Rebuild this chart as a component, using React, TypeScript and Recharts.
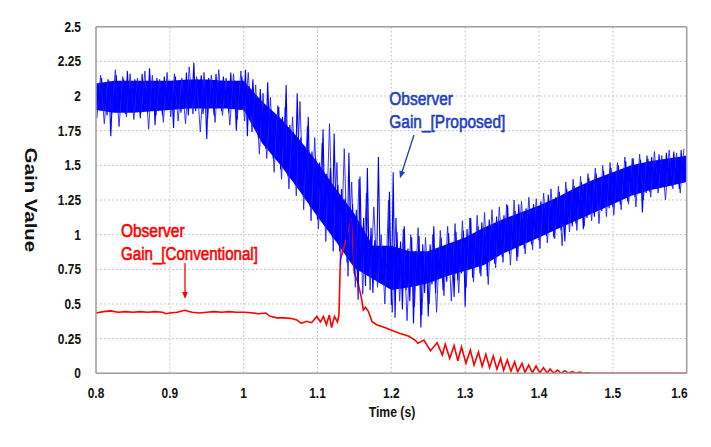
import React from "react"
import { ComposedChart, Line, Area, XAxis, YAxis, CartesianGrid, ReferenceLine } from "recharts"

// x axis and y axis ticks
const timeTicks = [0.8, 0.9, 1.0, 1.1, 1.2, 1.3, 1.4, 1.5, 1.6]
const gainTicks = [0, 0.25, 0.5, 0.75, 1, 1.25, 1.5, 1.75, 2, 2.25, 2.5]

const blueStart = 0.8
const blueStep = 0.0025
const proposedGain = [
  1.95, 2.08, 1.90, 2.13, 1.97, 2.05, 1.86, 2.11, 1.71, 2.03, 1.93, 2.15, 1.88, 2.07, 1.96, 2.12, 1.87, 2.18, 1.94, 2.06,
  1.89, 2.12, 1.98, 2.09, 1.84, 2.16, 1.93, 2.04, 1.88, 2.20, 1.95, 2.10, 1.79, 2.13, 1.91, 2.06, 1.86, 2.14, 1.97, 2.11,
  1.90, 2.08, 1.77, 2.14, 1.96, 2.11, 1.88, 2.05, 1.92, 2.17, 1.86, 2.09, 1.95, 2.24, 1.89, 2.12, 1.97, 2.15, 1.87, 2.07,
  1.69, 2.13, 1.93, 2.06, 1.86, 2.16, 1.95, 2.10, 1.89, 2.14, 1.97, 2.08, 1.88, 2.17, 1.92, 2.11, 1.75, 2.05, 1.90, 2.14,
  1.93, 2.19, 1.71, 2.07, 1.86, 2.12, 1.80, 1.98, 1.70, 2.05, 1.76, 1.93, 1.62, 2.10, 1.72, 1.90, 1.55, 1.86, 1.64, 1.92,
  1.47, 1.85, 1.58, 2.08, 1.42, 1.79, 1.53, 1.74, 1.36, 2.02, 1.47, 1.70, 1.30, 1.64, 1.41, 1.85, 1.20, 1.60, 1.33, 1.55,
  1.11, 1.52, 1.25, 1.76, 1.06, 1.44, 1.18, 1.48, 0.98, 1.73, 1.12, 1.36, 0.88, 1.33, 1.02, 1.26, 0.80, 1.59, 0.92, 1.22,
  0.72, 1.18, 0.53, 1.42, 0.80, 1.12, 0.63, 1.48, 0.75, 1.05, 0.58, 0.96, 0.72, 1.56, 0.70, 0.84, 0.66, 0.80, 0.73, 1.31,
  0.49, 1.45, 0.40, 1.02, 0.66, 0.95, 0.46, 1.06, 0.60, 0.90, 0.52, 0.98, 0.36, 0.88, 0.63, 0.99, 0.33, 0.93, 0.58, 0.86,
  0.41, 0.93, 0.64, 1.06, 0.58, 0.88, 0.70, 0.98, 0.60, 0.92, 0.66, 1.01, 0.74, 0.94, 0.55, 1.02, 0.67, 0.90, 0.72, 1.03,
  0.48, 1.04, 0.75, 1.12, 0.69, 0.97, 0.80, 1.06, 0.72, 1.09, 0.84, 1.00, 0.70, 1.11, 0.82, 1.05, 0.79, 1.13, 0.88, 1.08,
  0.84, 1.14, 0.92, 1.21, 0.86, 1.08, 0.95, 1.17, 0.81, 1.22, 0.97, 1.12, 0.90, 1.19, 1.00, 1.15, 0.93, 1.22, 1.01, 1.18,
  0.96, 1.24, 1.04, 1.19, 0.99, 1.29, 1.08, 1.23, 0.98, 1.27, 1.06, 1.31, 1.03, 1.22, 0.95, 1.33, 1.12, 1.28, 1.06, 1.35,
  1.08, 1.32, 1.16, 1.38, 1.04, 1.30, 1.12, 1.41, 1.19, 1.36, 1.13, 1.44, 1.22, 1.39, 1.17, 1.46, 1.24, 1.40, 1.19, 1.48,
  1.20, 1.44, 1.28, 1.50, 1.22, 1.46, 1.31, 1.53, 1.24, 1.48, 1.33, 1.55, 1.27, 1.50, 1.35, 1.54, 1.16, 1.49, 1.30, 1.55,
  1.31, 1.56, 1.38, 1.51, 1.33, 1.58, 1.40, 1.54, 1.34, 1.59, 1.42, 1.52, 1.35, 1.60, 1.39, 1.55, 1.33, 1.61, 1.41, 1.57,
  1.45,
]

// extra samples of the same signal, every 5 ms from 0.80125 s (fills in the noisy edges)
const extraStart = 0.80125
const extraStep = 0.005
const proposedGainExtra = [
  1.84, 2.15, 1.80, 2.12, 1.87, 2.19, 1.78, 2.14, 1.85, 2.16,
  1.83, 2.13, 1.88, 2.18, 1.76, 2.15, 1.86, 2.12, 1.81, 2.17,
  1.85, 2.16, 1.82, 2.13, 1.80, 2.21, 1.87, 2.14, 1.74, 2.17,
  1.84, 2.15, 1.81, 2.19, 1.86, 2.13, 1.79, 2.16, 1.83, 2.18,
  1.82, 2.17, 1.74, 2.08, 1.58, 2.02, 1.55, 1.99, 1.45, 1.93,
  1.40, 1.92, 1.33, 1.85, 1.28, 1.96, 1.18, 1.78, 1.10, 1.70,
  1.04, 1.66, 0.95, 1.80, 0.88, 1.52, 0.79, 1.62, 0.70, 1.38,
  0.62, 1.40, 0.57, 1.30, 0.60, 1.20, 0.62, 1.00, 0.50, 1.25,
  0.44, 1.12, 0.52, 1.04, 0.38, 1.00, 0.48, 1.05, 0.42, 0.98,
  0.50, 1.00, 0.44, 1.03, 0.56, 1.06, 0.52, 1.08, 0.58, 1.10,
  0.62, 1.12, 0.66, 1.14, 0.70, 1.16, 0.64, 1.18, 0.76, 1.20,
  0.80, 1.22, 0.78, 1.25, 0.84, 1.24, 0.86, 1.27, 0.89, 1.26,
  0.90, 1.30, 0.94, 1.33, 0.97, 1.35, 0.92, 1.38, 1.02, 1.40,
  1.03, 1.42, 1.06, 1.44, 1.10, 1.48, 1.08, 1.50, 1.13, 1.52,
  1.14, 1.52, 1.18, 1.56, 1.22, 1.55, 1.20, 1.58, 1.25, 1.57,
  1.27, 1.60, 1.30, 1.57, 1.25, 1.61, 1.33, 1.59, 1.30, 1.62,
]

// dense core of the proposed-gain band, every 25 ms
const coreTime = [
  0.8, 0.825, 0.85, 0.875, 0.9, 0.925, 0.95, 0.975, 1.0, 1.025, 1.05, 1.075, 1.1, 1.125, 1.15, 1.175, 1.2,
  1.225, 1.25, 1.275, 1.3, 1.325, 1.35, 1.375, 1.4, 1.425, 1.45, 1.475, 1.5, 1.525, 1.55, 1.575, 1.6,
]
const coreLow = [
  1.9, 1.88, 1.88, 1.89, 1.9, 1.91, 1.91, 1.91, 1.9, 1.66, 1.5, 1.32, 1.13, 0.95, 0.76, 0.68, 0.6,
  0.62, 0.65, 0.7, 0.74, 0.78, 0.86, 0.92, 0.98, 1.04, 1.1, 1.16, 1.22, 1.28, 1.32, 1.35, 1.38,
]
const coreHigh = [
  2.09, 2.11, 2.11, 2.11, 2.11, 2.12, 2.12, 2.11, 2.11, 1.96, 1.84, 1.69, 1.52, 1.33, 1.15, 0.92, 0.92,
  0.88, 0.88, 0.93, 0.98, 1.05, 1.11, 1.16, 1.21, 1.27, 1.34, 1.4, 1.45, 1.5, 1.53, 1.55, 1.57,
]

// conventional observer gain
const conventionalTime = [
  0.8, 0.81, 0.82, 0.83, 0.84, 0.85, 0.86, 0.87, 0.88, 0.89, 0.895, 0.9, 0.91, 0.92, 0.93, 0.94, 0.95, 0.96, 0.97, 0.98,
  0.99, 1.0, 1.01, 1.02, 1.03, 1.035, 1.045, 1.055, 1.065, 1.072, 1.078, 1.085, 1.092, 1.099, 1.104, 1.108, 1.112, 1.116,
  1.119, 1.123, 1.127, 1.129, 1.131, 1.138, 1.146, 1.15, 1.155, 1.16, 1.162, 1.165, 1.169, 1.174, 1.18, 1.191, 1.202,
  1.211, 1.223, 1.232, 1.236, 1.244, 1.253, 1.262, 1.269, 1.273, 1.279, 1.285, 1.29, 1.295, 1.301, 1.307, 1.312, 1.318,
  1.323, 1.328, 1.333, 1.338, 1.343, 1.348, 1.352, 1.357, 1.362, 1.367, 1.371, 1.377, 1.381, 1.386, 1.391, 1.396, 1.401,
  1.406, 1.411, 1.415, 1.42, 1.425, 1.43, 1.435, 1.44, 1.445, 1.45, 1.455, 1.46, 1.465, 1.47, 1.6,
]
const conventionalGain = [
  0.435, 0.445, 0.45, 0.44, 0.445, 0.44, 0.445, 0.44, 0.445, 0.44, 0.43, 0.435, 0.44, 0.455, 0.44, 0.435, 0.44, 0.445, 0.44, 0.445,
  0.44, 0.44, 0.437, 0.43, 0.435, 0.413, 0.4, 0.4, 0.395, 0.385, 0.36, 0.375, 0.365, 0.41, 0.37, 0.41, 0.35, 0.42,
  0.33, 0.41, 0.37, 0.42, 0.82, 0.95, 1.12, 0.72, 0.65, 0.53, 0.456, 0.476, 0.445, 0.372, 0.35, 0.33, 0.307,
  0.289, 0.269, 0.24, 0.216, 0.24, 0.163, 0.22, 0.132, 0.21, 0.108, 0.2, 0.09, 0.19, 0.072, 0.168, 0.06, 0.154,
  0.05, 0.137, 0.04, 0.125, 0.03, 0.108, 0.022, 0.096, 0.015, 0.084, 0.01, 0.072, 0.006, 0.06, 0.003, 0.053, 0.002,
  0.041, 0.001, 0.031, 0, 0.024, 0, 0.019, 0, 0.012, 0, 0.008, 0, 0.004, 0, 0,
]

const proposedData = proposedGain.map((v, i) => ({ t: Number((blueStart + i * blueStep).toFixed(5)), v }))
const extraData = proposedGainExtra.map((v, i) => ({ t: Number((extraStart + i * extraStep).toFixed(5)), v }))
const coreData = coreTime.map((t, i) => ({ t, band: [coreLow[i], coreHigh[i]] }))
const conventionalData = conventionalTime.map((t, i) => ({ t, v: conventionalGain[i] }))

const W = 703
const H = 439
const tickFont = "'Liberation Sans', Arial, sans-serif"

const fmt = (v: number) => String(Number(v.toFixed(2)))

const YTick = (props: any) => {
  const { x, y, payload } = props
  return (
    <text transform={`translate(${x},${y}) scale(0.85,1)`} textAnchor="end" dy="0.36em"
      fontFamily={tickFont} fontWeight="bold" fontSize={14} fill="#111">
      {fmt(payload.value)}
    </text>
  )
}

const XTick = (props: any) => {
  const { x, y, payload } = props
  const last = payload.value >= 1.6
  return (
    <text transform={`translate(${last ? x + 1 : x},${y}) scale(0.85,1)`} textAnchor={last ? "end" : "middle"} dy="0.36em"
      fontFamily={tickFont} fontWeight="bold" fontSize={14} fill="#111">
      {fmt(payload.value)}
    </text>
  )
}

const noteFont = "'Liberation Sans', Arial, sans-serif"

export default function App() {
  return (
    <div style={{ position: "relative", width: W, height: H }}>
      <ComposedChart width={W} height={H} margin={{ top: 18.7, right: 24.3, left: 28, bottom: 43.7 }}>
        <CartesianGrid stroke="#c6c6c6" strokeDasharray="2 2" />
        <XAxis type="number" dataKey="t" domain={[0.8, 1.6]} ticks={timeTicks} allowDataOverflow
          height={30} tickLine={false} tickSize={0} tickMargin={20} tick={XTick}
          axisLine={{ stroke: "#a0a0a0", strokeWidth: 1.5 }} />
        <YAxis type="number" domain={[0, 2.5]} ticks={gainTicks} allowDataOverflow
          width={60} tickLine={false} tickSize={0} tickMargin={15} tick={YTick}
          axisLine={{ stroke: "#a0a0a0", strokeWidth: 1.5 }} />
        <Line data={conventionalData} dataKey="v" type="linear" stroke="#ff0000" strokeWidth={1.6}
          dot={false} isAnimationActive={false} />
        <Area data={coreData} dataKey="band" type="linear" stroke="none" fill="#0000ff" fillOpacity={1}
          isAnimationActive={false} />
        <Line data={extraData} dataKey="v" type="linear" stroke="#2020ff" strokeWidth={0.9}
          dot={false} isAnimationActive={false} />
        <Line data={proposedData} dataKey="v" type="linear" stroke="#0000ff" strokeWidth={1.1}
          dot={false} isAnimationActive={false} />
        <ReferenceLine y={2.5} stroke="#a0a0a0" strokeWidth={1.5} />
        <ReferenceLine x={1.6} stroke="#a0a0a0" strokeWidth={1.5} />
      </ComposedChart>
      <svg width={W} height={H} style={{ position: "absolute", left: 0, top: 0, pointerEvents: "none" }}>
        <text transform="translate(23,192) rotate(90) scale(1.2,1)" textAnchor="middle" dy="0.36em"
          fontFamily={tickFont} fontWeight="bold" fontSize={17} fill="#111">Gain Value</text>
        <text transform="translate(384,404) scale(0.87,1)" textAnchor="middle" dy="0.36em"
          fontFamily={tickFont} fontWeight="bold" fontSize={14} fill="#111">Time (s)</text>

        <g fill="#ff0000" stroke="#ff0000" strokeWidth={0.6} fontFamily={noteFont} fontSize={18}>
          <text transform="translate(113,228.7) scale(0.86,1)">Observer</text>
          <text transform="translate(113,252) scale(0.84,1)">Gain_[Conventional]</text>
        </g>
        <line x1={177} y1={255} x2={177} y2={286} stroke="#ff0000" strokeWidth={1.3} />
        <polygon points="174.2,284 179.8,284 177,291" fill="#ff0000" />

        <g fill="#1f3fbf" stroke="#1f3fbf" strokeWidth={0.6} fontFamily={noteFont} fontSize={18}>
          <text transform="translate(381.3,97) scale(0.86,1)">Observer</text>
          <text transform="translate(381.3,120.3) scale(0.86,1)">Gain_[Proposed]</text>
        </g>
        <line x1={406} y1={127} x2={394} y2={164} stroke="#1f3fbf" strokeWidth={1.3} />
        <polygon points="397.1,164.3 391.4,162.4 392,170.3" fill="#1f3fbf" />
      </svg>
    </div>
  )
}
